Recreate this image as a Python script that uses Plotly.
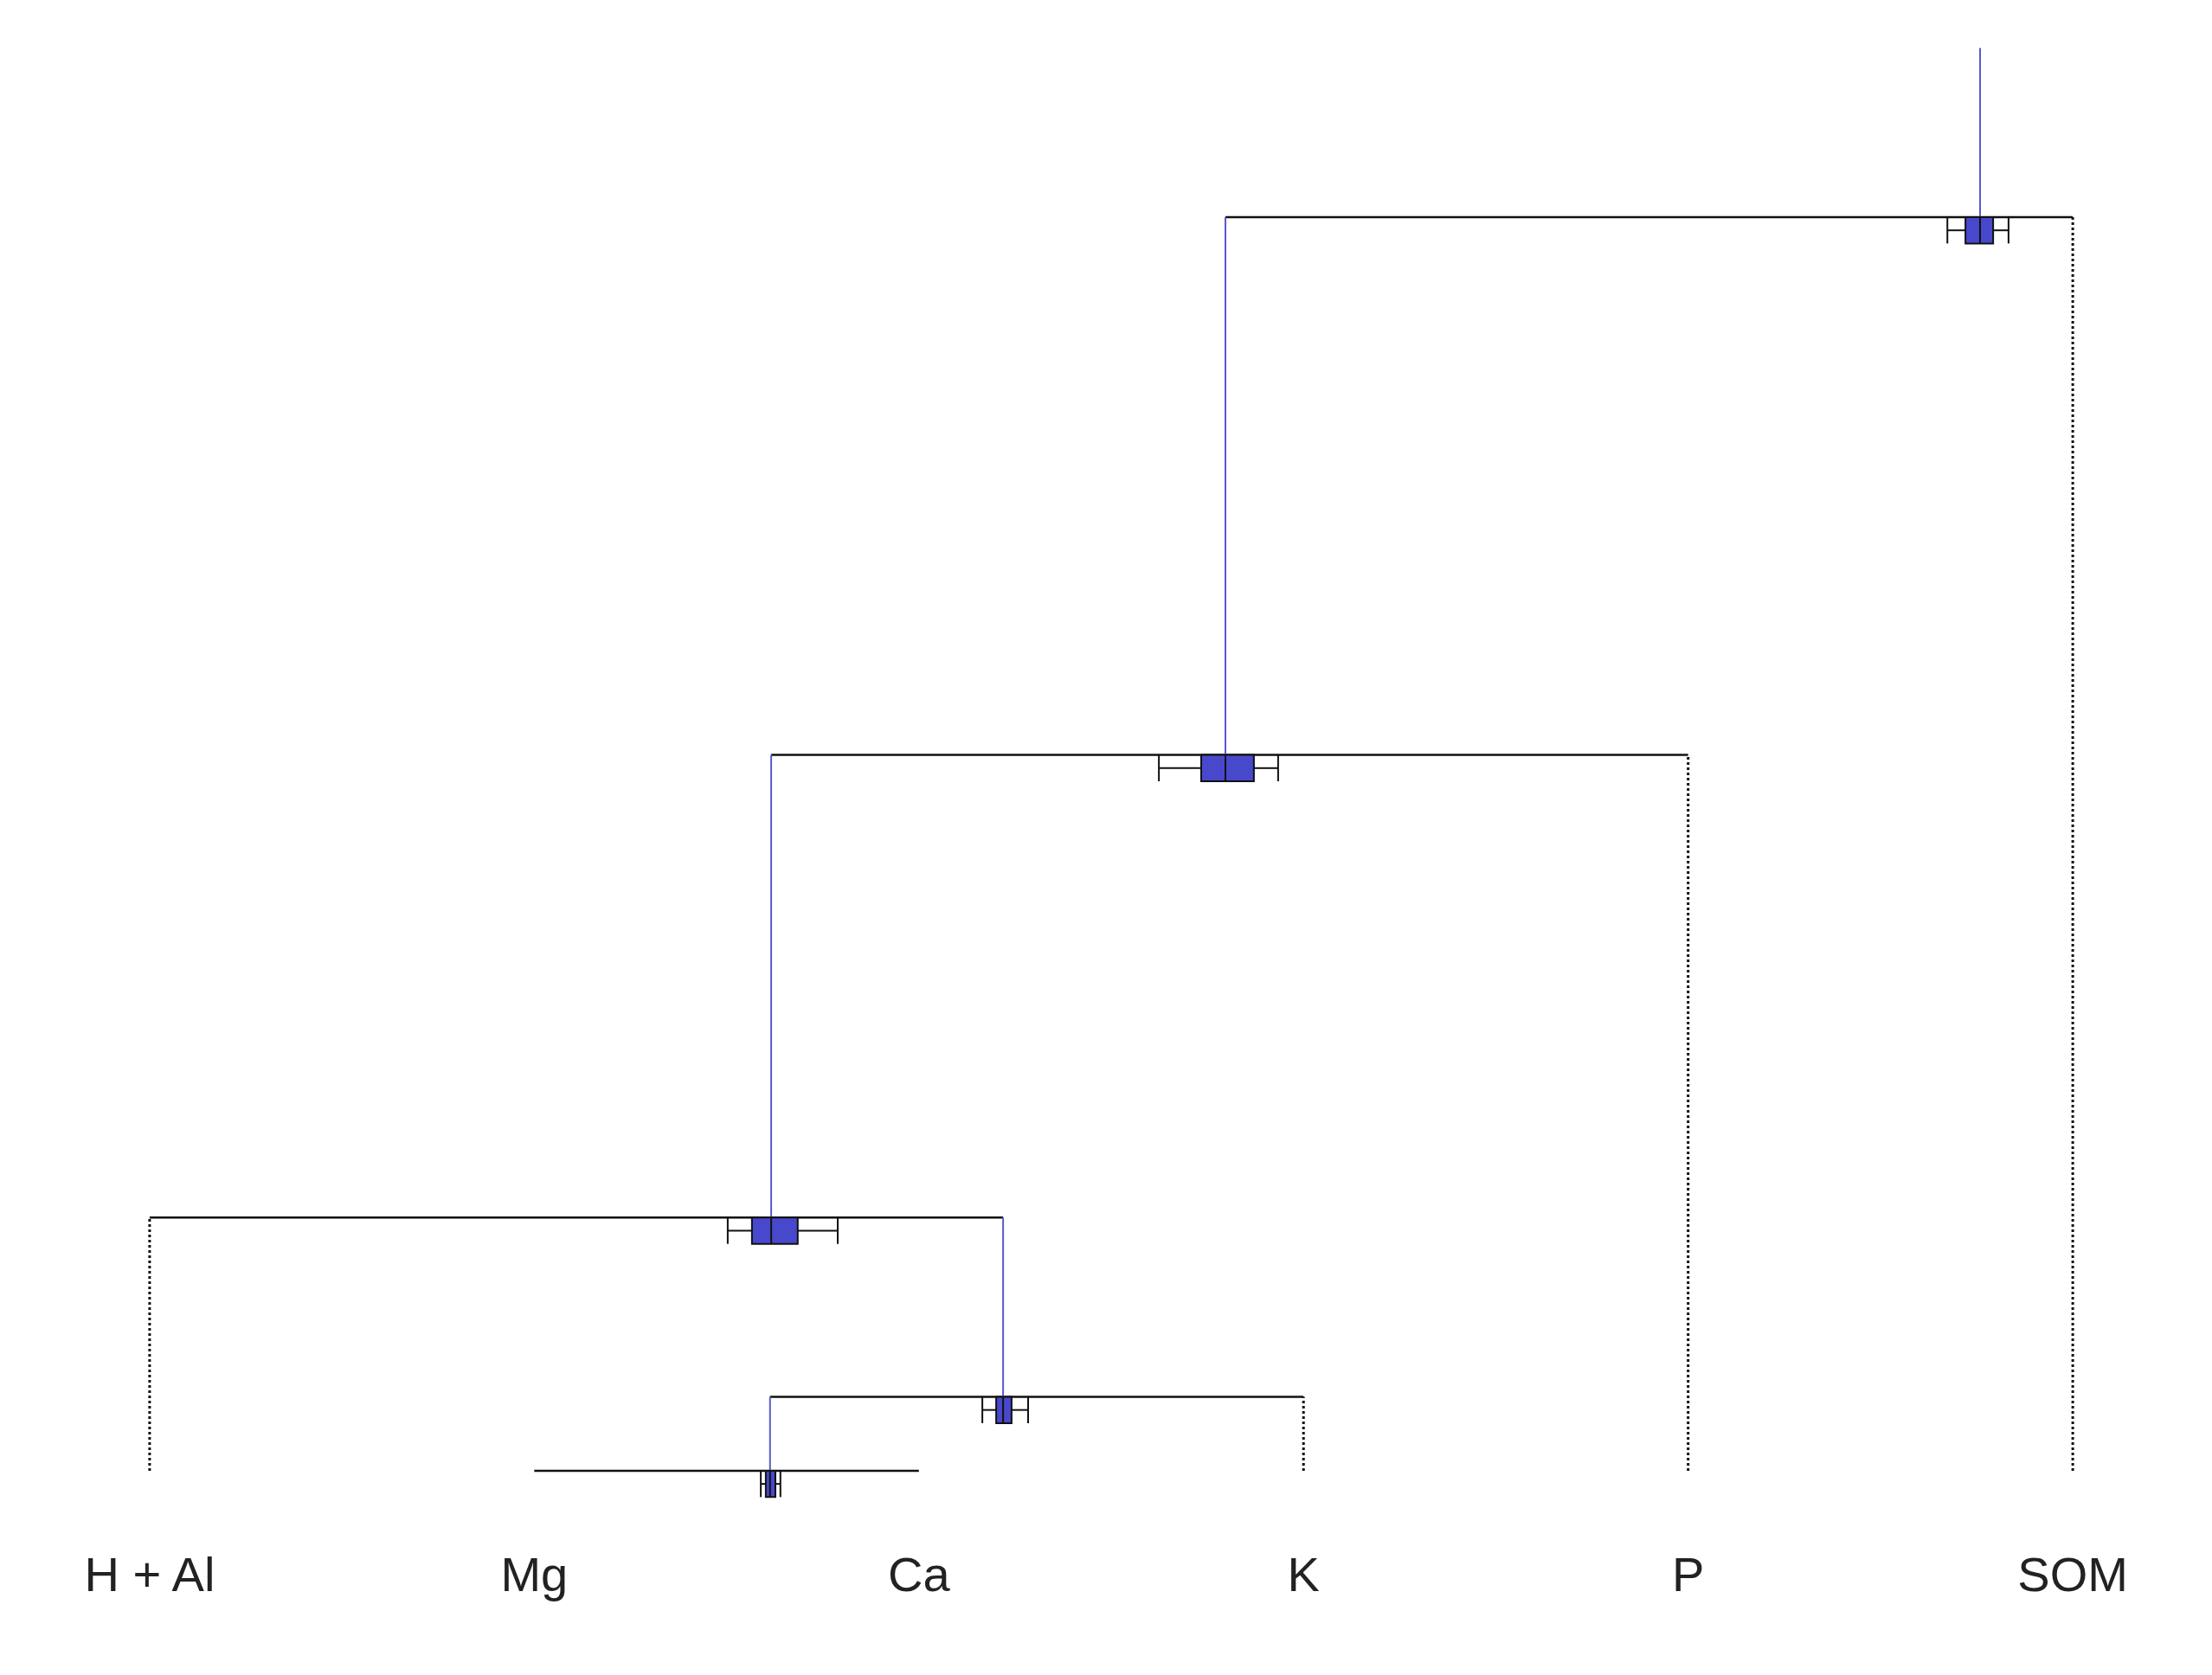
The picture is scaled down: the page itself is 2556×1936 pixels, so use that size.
import plotly.graph_objects as go

# leaves (left to right) and their positions on the x scale
labels = ["H + Al", "Mg", "Ca", "K", "P", "SOM"]
leaf_x = [1, 2, 3, 4, 5, 6]

# merges: ids 0-5 are leaves, 6-10 are the merge nodes below
left_child = [1, 6, 0, 8, 9]
right_child = [2, 3, 7, 4, 5]
node_height = [0.0, 0.059, 0.202, 0.571, 1.0]
root_top = 1.135

# box stats of each node position: whisker low, q1, median, q3, whisker high
whisk_lo = [2.589, 3.165, 2.503, 3.624, 5.674]
q1 = [2.602, 3.201, 2.566, 3.734, 5.721]
med = [2.613, 3.219, 2.616, 3.797, 5.759]
q3 = [2.627, 3.241, 2.685, 3.871, 5.793]
whisk_hi = [2.640, 3.284, 2.789, 3.934, 5.833]

BOX_H = 0.021
BLACK = "#111111"
BLUE = "#5a5ac8"
FILL = "#4848cc"

n_leaf = len(labels)
xpos = list(leaf_x) + list(med)

# parent height of every id
parent_h = [None] * (n_leaf + len(node_height))
for k, (a, b) in enumerate(zip(left_child, right_child)):
    parent_h[a] = node_height[k]
    parent_h[b] = node_height[k]
parent_h[-1] = root_top

fig = go.Figure()

# horizontal joins
hx, hy = [], []
for k, (a, b) in enumerate(zip(left_child, right_child)):
    hx += [xpos[a], xpos[b], None]
    hy += [node_height[k], node_height[k], None]
fig.add_trace(go.Scatter(x=hx, y=hy, mode="lines", line=dict(color=BLACK, width=2.5), hoverinfo="skip"))

# dotted leaf stems
dx, dy = [], []
for i in range(n_leaf):
    if parent_h[i] > 0:
        dx += [leaf_x[i], leaf_x[i], None]
        dy += [0, parent_h[i], None]
fig.add_trace(go.Scatter(x=dx, y=dy, mode="lines", line=dict(color=BLACK, width=3, dash="dot"), hoverinfo="skip"))

# blue stems from the nodes up to their parents
bx, by = [], []
for k in range(len(node_height)):
    nid = n_leaf + k
    bx += [med[k], med[k], None]
    by += [node_height[k], parent_h[nid], None]
fig.add_trace(go.Scatter(x=bx, y=by, mode="lines", line=dict(color=BLUE, width=2), hoverinfo="skip"))

# boxplots of the node positions
wx, wy = [], []
for k in range(len(node_height)):
    top = node_height[k]
    bot = top - BOX_H
    mid = top - BOX_H / 2
    fig.add_trace(go.Scatter(
        x=[q1[k], q3[k], q3[k], q1[k], q1[k]], y=[top, top, bot, bot, top],
        mode="lines", fill="toself", fillcolor=FILL, line=dict(color=BLACK, width=2), hoverinfo="skip"))
    wx += [med[k], med[k], None]
    wy += [top, bot, None]
    wx += [whisk_lo[k], q1[k], None, q3[k], whisk_hi[k], None]
    wy += [mid, mid, None, mid, mid, None]
    wx += [whisk_lo[k], whisk_lo[k], None, whisk_hi[k], whisk_hi[k], None]
    wy += [top, bot, None, top, bot, None]
fig.add_trace(go.Scatter(x=wx, y=wy, mode="lines", line=dict(color=BLACK, width=2), hoverinfo="skip"))

# leaf labels
fig.add_trace(go.Scatter(
    x=leaf_x, y=[-0.0865] * n_leaf, mode="text", text=labels,
    textfont=dict(family="Liberation Sans Narrow, Arial Narrow, Liberation Sans, Arial", size=56, color="#222222"),
    hoverinfo="skip"))

# page body has an 8px margin, so the figure is 16px smaller than the window
fig.update_layout(
    width=2540, height=1920,
    margin=dict(l=0, r=0, t=0, b=0),
    paper_bgcolor="white", plot_bgcolor="white",
    showlegend=False,
    xaxis=dict(range=[0.629, 6.344], visible=False, fixedrange=True),
    yaxis=dict(range=[-0.1574, 1.1677], visible=False, fixedrange=True),
)

fig.write_html("out.html")
